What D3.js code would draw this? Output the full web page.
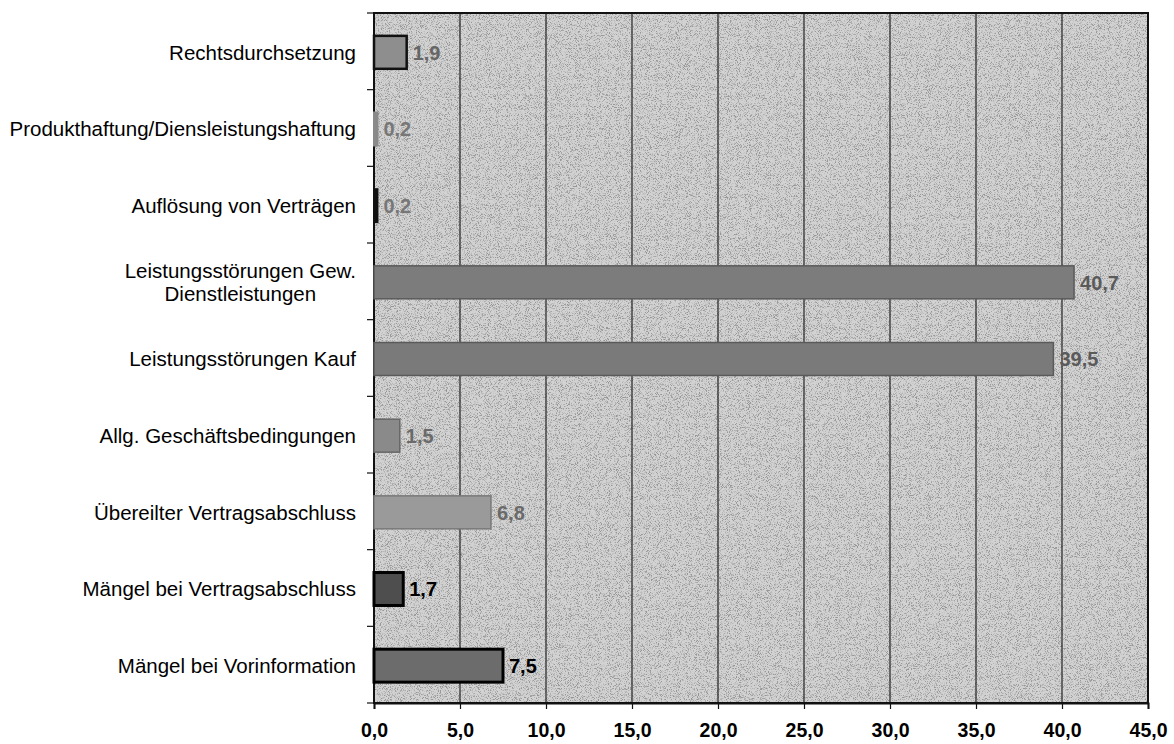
<!DOCTYPE html>
<html>
<head>
<meta charset="utf-8">
<script src="https://cdn.jsdelivr.net/npm/d3@7"></script>
<style>
  html, body { margin: 0; padding: 0; background: #ffffff; }
  svg { display: block; font-family: "Liberation Sans", Arial, sans-serif; }
</style>
</head>
<body>
<svg id="chart" width="1174" height="744"></svg>
<script>
// Complaint categories, top to bottom ("\n" marks a line break in the label)
const categories = [
  "Rechtsdurchsetzung",
  "Produkthaftung/Diensleistungshaftung",
  "Auflösung von Verträgen",
  "Leistungsstörungen Gew.\nDienstleistungen",
  "Leistungsstörungen Kauf",
  "Allg. Geschäftsbedingungen",
  "Übereilter Vertragsabschluss",
  "Mängel bei Vertragsabschluss",
  "Mängel bei Vorinformation"
];

// Share of complaints in percent
const values = [1.9, 0.2, 0.2, 40.7, 39.5, 1.5, 6.8, 1.7, 7.5];

// Value axis ticks
const xTicks = [0, 5, 10, 15, 20, 25, 30, 35, 40, 45];

// Per-bar appearance
const barFills   = ["#8e8e8e", "#8a8a8a", "#111111", "#7c7c7c", "#7a7a7a", "#8a8a8a", "#9a9a9a", "#4e4e4e", "#6c6c6c"];
const barStrokes = ["#111111", "#8a8a8a", "#111111", "#5a5a5a", "#5a5a5a", "#666666", "#7a7a7a", "#000000", "#000000"];
const barStrokeW = [2.5, 2, 2, 1.5, 1.5, 1.5, 1.5, 3, 3];
const labelFills = ["#666666", "#777777", "#777777", "#5a5a5a", "#5a5a5a", "#6a6a6a", "#6a6a6a", "#000000", "#000000"];

const svg = d3.select("#chart");
const margin = { left: 374, right: 26, top: 13, bottom: 41 };
const W = 1174, H = 744;
const plotW = W - margin.left - margin.right;
const plotH = H - margin.top - margin.bottom;

// Grain texture for the printed-paper plot background
const defs = svg.append("defs");
const grain = defs.append("filter").attr("id", "grain")
  .attr("x", 0).attr("y", 0).attr("width", "100%").attr("height", "100%");
grain.append("feTurbulence")
  .attr("type", "fractalNoise").attr("baseFrequency", 1.1)
  .attr("numOctaves", 2).attr("seed", 7).attr("result", "noise");
grain.append("feColorMatrix")
  .attr("in", "noise").attr("type", "matrix")
  .attr("values", "0 0 0 0 0  0 0 0 0 0  0 0 0 0 0  5 0 0 0 -2.5");

const x = d3.scaleLinear().domain([0, 45]).range([0, plotW]);
const y = d3.scaleBand().domain(categories).range([0, plotH]).paddingInner(0.57).paddingOuter(0.285);
const yBands = d3.scaleBand().domain(categories).range([0, plotH]);

const g = svg.append("g").attr("transform", `translate(${margin.left},${margin.top})`);

// Plot background
g.append("rect")
  .attr("width", plotW).attr("height", plotH)
  .attr("fill", "#d2d2d2");
g.append("rect")
  .attr("width", plotW).attr("height", plotH)
  .attr("fill", "#000")
  .attr("filter", "url(#grain)")
  .attr("opacity", 0.28);

// Vertical gridlines
g.selectAll("line.grid")
  .data(xTicks.slice(1, -1))
  .join("line")
  .attr("class", "grid")
  .attr("x1", d => x(d)).attr("x2", d => x(d))
  .attr("y1", 0).attr("y2", plotH)
  .attr("stroke", "#222").attr("stroke-width", 1.2);

// Plot frame
g.append("rect")
  .attr("width", plotW).attr("height", plotH)
  .attr("fill", "none").attr("stroke", "#111").attr("stroke-width", 2);

// Bars
g.selectAll("rect.bar")
  .data(values)
  .join("rect")
  .attr("class", "bar")
  .attr("x", 0)
  .attr("y", (d, i) => y(categories[i]) + 1)
  .attr("width", d => x(d))
  .attr("height", y.bandwidth())
  .attr("fill", (d, i) => barFills[i])
  .attr("stroke", (d, i) => barStrokes[i])
  .attr("stroke-width", (d, i) => barStrokeW[i]);

// Value labels
g.selectAll("text.val")
  .data(values)
  .join("text")
  .attr("class", "val")
  .attr("x", d => x(d) + 6)
  .attr("y", (d, i) => y(categories[i]) + 1 + y.bandwidth() / 2)
  .attr("dy", "0.36em")
  .attr("font-size", 20)
  .attr("font-weight", "bold")
  .attr("fill", (d, i) => labelFills[i])
  .text(d => d3.format(".1f")(d).replace(".", ","));

// Category axis: ticks at band boundaries, labels centred on each bar
const yAxisG = g.append("g");
yAxisG.selectAll("line.ytick")
  .data(d3.range(categories.length + 1))
  .join("line")
  .attr("class", "ytick")
  .attr("x1", -7).attr("x2", 0)
  .attr("y1", i => i * yBands.step()).attr("y2", i => i * yBands.step())
  .attr("stroke", "#111").attr("stroke-width", 1.2);

const catLabels = yAxisG.selectAll("text.cat")
  .data(categories)
  .join("text")
  .attr("class", "cat")
  .attr("font-size", 20.5)
  .attr("fill", "#000");

catLabels.each(function (d, i) {
  const lines = d.split("\n");
  const t = d3.select(this);
  const cy = y(d) + 1 + y.bandwidth() / 2;
  const lh = 23;
  const startY = cy - (lines.length - 1) * lh / 2;
  if (lines.length === 1) {
    t.attr("text-anchor", "end").attr("x", -18).attr("y", startY).attr("dy", "0.36em").text(lines[0]);
  } else {
    // multi-line label: lines centred on each other, block right-aligned
    t.attr("text-anchor", "middle");
    const tmp = t.append("tspan").text(lines[0]);
    const w0 = tmp.node().getComputedTextLength();
    tmp.remove();
    const cx = -18 - w0 / 2;
    lines.forEach((ln, k) => {
      t.append("tspan").attr("x", cx).attr("y", startY + k * lh).attr("dy", "0.36em").text(ln);
    });
  }
});

// Value axis at bottom
const xAxis = d3.axisBottom(x)
  .tickValues(xTicks)
  .tickSize(6)
  .tickPadding(14)
  .tickFormat(d => d3.format(".1f")(d).replace(".", ","));

const xAxisG = g.append("g")
  .attr("transform", `translate(0,${plotH})`)
  .call(xAxis);
xAxisG.select(".domain").attr("stroke", "#111").attr("stroke-width", 2);
xAxisG.selectAll(".tick line").attr("stroke", "#111").attr("stroke-width", 1.2);
xAxisG.selectAll(".tick text")
  .attr("font-size", 19.5)
  .attr("font-weight", "bold")
  .attr("font-family", "'Liberation Sans', Arial, sans-serif")
  .attr("fill", "#000");
</script>
</body>
</html>
